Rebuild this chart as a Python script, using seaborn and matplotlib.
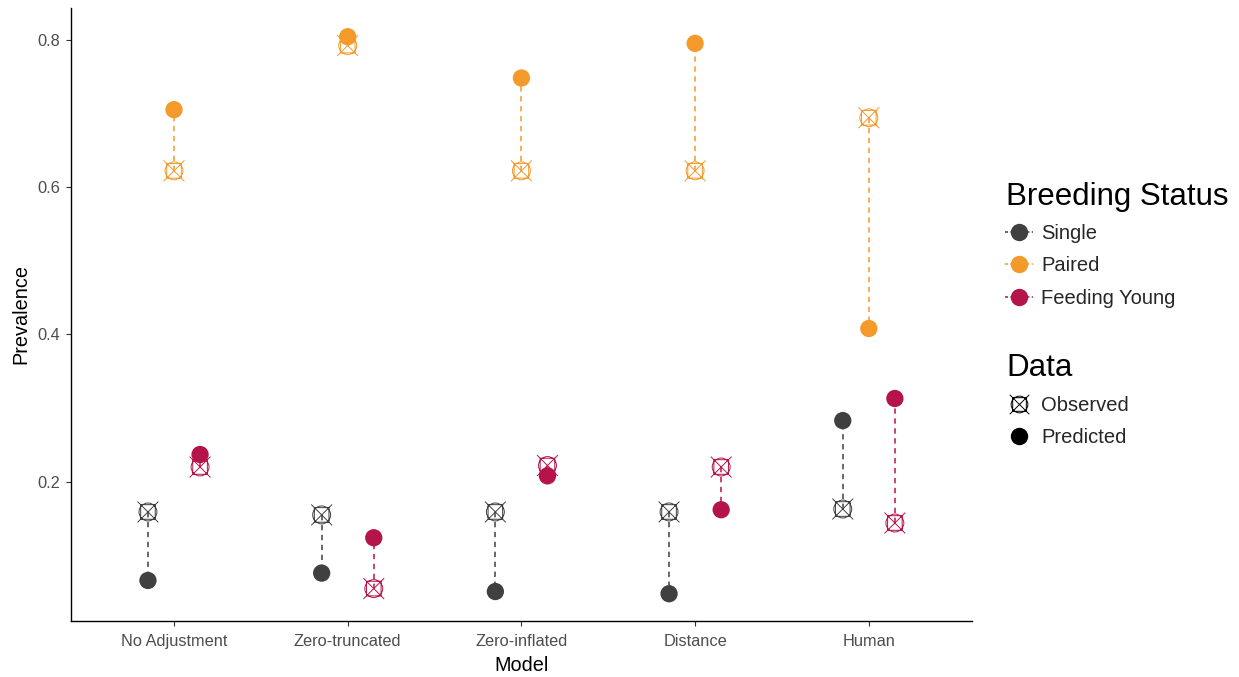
import numpy as np
import pandas as pd
import matplotlib
matplotlib.use("Agg")
import matplotlib.pyplot as plt
from matplotlib.path import Path
from matplotlib.lines import Line2D
import seaborn as sns

# ---- data -------------------------------------------------------------
models = ["No Adjustment", "Zero-truncated", "Zero-inflated", "Distance", "Human"]
statuses = ["Single", "Paired", "Feeding Young"]

observed_single = [0.159, 0.155, 0.159, 0.159, 0.163]
predicted_single = [0.066, 0.076, 0.051, 0.048, 0.283]
observed_paired = [0.622, 0.792, 0.622, 0.622, 0.694]
predicted_paired = [0.705, 0.804, 0.748, 0.795, 0.408]
observed_feeding = [0.220, 0.055, 0.222, 0.220, 0.144]
predicted_feeding = [0.237, 0.124, 0.208, 0.162, 0.313]

palette = {"Single": "#404040", "Paired": "#F39A2B", "Feeding Young": "#B5144B"}

# ---- long table --------------------------------------------------------
obs = {"Single": observed_single, "Paired": observed_paired, "Feeding Young": observed_feeding}
pred = {"Single": predicted_single, "Paired": predicted_paired, "Feeding Young": predicted_feeding}
rows = []
for s in statuses:
    for m, o, p in zip(models, obs[s], pred[s]):
        rows.append({"Model": m, "Status": s, "Observed": o, "Predicted": p})
df = pd.DataFrame(rows)

dodge = 0.15
offsets = {s: (i - 1) * dodge for i, s in enumerate(statuses)}
df["xpos"] = df["Model"].map({m: i for i, m in enumerate(models)}) + df["Status"].map(offsets)

long = df.melt(id_vars=["Model", "Status", "xpos"], value_vars=["Observed", "Predicted"],
               var_name="Data", value_name="Prevalence")

# square with diagonals and a circle, drawn hollow
sq = Path([(-0.7, -0.7), (0.7, -0.7), (0.7, 0.7), (-0.7, 0.7), (-0.7, -0.7)],
          [Path.MOVETO, Path.LINETO, Path.LINETO, Path.LINETO, Path.CLOSEPOLY])
d1 = Path([(-1, -1), (1, 1)], [Path.MOVETO, Path.LINETO])
d2 = Path([(-1, 1), (1, -1)], [Path.MOVETO, Path.LINETO])
circ = Path(Path.unit_circle().vertices * 0.86, Path.unit_circle().codes)
obs_marker = Path.make_compound_path(sq, d1, d2, circ)

# ---- figure ------------------------------------------------------------
sns.set_theme(style="white")
plt.rcParams["font.family"] = ["Liberation Sans", "DejaVu Sans"]

fig = plt.figure(figsize=(12.39, 6.77), dpi=100)
ax = fig.add_axes([71 / 1239, 1 - 621 / 677, (972 - 71) / 1239, (621 - 8) / 677])

# dashed connectors between observed and predicted
for _, r in df.iterrows():
    ax.plot([r["xpos"], r["xpos"]], [r["Observed"], r["Predicted"]],
            ls=(0, (3.5, 3)), lw=1.1, color=palette[r["Status"]], zorder=1)

obs_df = long[long["Data"] == "Observed"]
pred_df = long[long["Data"] == "Predicted"]

for s in statuses:
    sub = obs_df[obs_df["Status"] == s]
    ax.scatter(sub["xpos"], sub["Prevalence"], marker=obs_marker, s=225,
               facecolors="none", edgecolors=palette[s], linewidths=0.7, zorder=2)

sns.scatterplot(data=pred_df, x="xpos", y="Prevalence", hue="Status", hue_order=statuses,
                palette=palette, s=155, linewidth=0, ax=ax, legend=False, zorder=3)

ax.set_xlim(-0.593, 4.594)
ax.set_ylim(0.011, 0.843)
ax.set_xticks(range(len(models)))
ax.set_xticklabels(models)
ax.set_yticks([0.2, 0.4, 0.6, 0.8])
ax.set_yticklabels(["0.2", "0.4", "0.6", "0.8"])
ax.set_xlabel("Model", fontsize=14.3, color="black", labelpad=5)
ax.set_ylabel("Prevalence", fontsize=14.3, color="black", labelpad=5)
ax.tick_params(axis="both", labelsize=11.8, labelcolor="#4D4D4D", colors="#333333",
               length=3.5, width=0.8, bottom=True, left=True, pad=4)
ax.tick_params(axis="x", pad=6)
for sp in ["top", "right"]:
    ax.spines[sp].set_visible(False)
for sp in ["left", "bottom"]:
    ax.spines[sp].set_color("black")
    ax.spines[sp].set_linewidth(1.0)

# ---- legends -----------------------------------------------------------
W, H = 1239, 677
fig.text(1006 / W, 1 - 197 / H, "Breeding Status", fontsize=22.5, va="center", ha="left",
         color="black")
fig.text(1006 / W, 1 - 368 / H, "Data", fontsize=22.5, va="center", ha="left", color="black")

status_handles = [Line2D([0], [0], color=palette[s], marker="o", markersize=11.5,
                         ls=(0, (2, 1.5)), lw=1.1) for s in statuses]
leg1 = fig.legend(status_handles, statuses, loc="upper left",
                  bbox_to_anchor=(1005 / W, 1 - 224 / H), frameon=False,
                  fontsize=14.5, handlelength=1.4, handletextpad=0.4,
                  labelspacing=0.67, borderpad=0, borderaxespad=0)

data_handles = [Line2D([0], [0], color="black", marker=obs_marker, markersize=14,
                       markerfacecolor="none", markeredgewidth=0.7, ls="none"),
                Line2D([0], [0], color="black", marker="o", markersize=11.5, ls="none")]
leg2 = fig.legend(data_handles, ["Observed", "Predicted"], loc="upper left",
                  bbox_to_anchor=(1005 / W, 1 - 396 / H), frameon=False,
                  fontsize=14.5, handlelength=1.4, handletextpad=0.4,
                  labelspacing=0.67, borderpad=0, borderaxespad=0)

fig.savefig("out.png", dpi=100)
